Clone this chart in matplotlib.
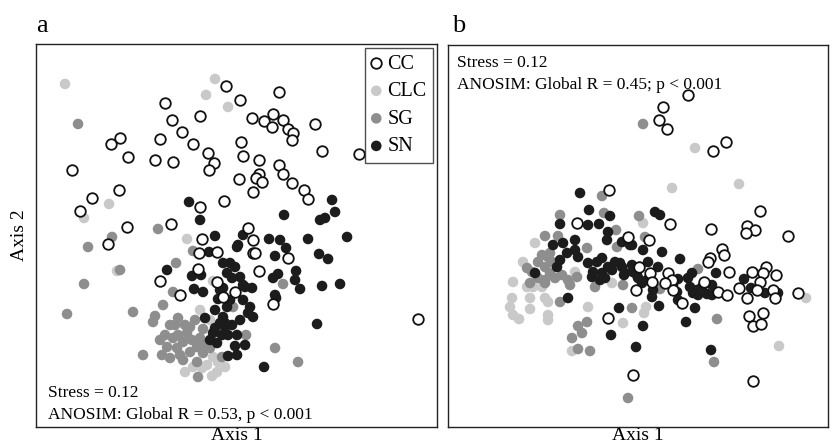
"""NMDS ordination of the four site groups (panels a and b)."""

import matplotlib
matplotlib.use("Agg")
import matplotlib.pyplot as plt

plt.rcParams["font.family"] = ["Liberation Serif", "DejaVu Serif"]

GROUPS = ["CC", "CLC", "SG", "SN"]
STRESS_A = 0.12
STRESS_B = 0.12
ANOSIM_A = "ANOSIM: Global R = 0.53, p < 0.001"
ANOSIM_B = "ANOSIM: Global R = 0.45; p < 0.001"

# ---- panel a: NMDS scores ----------------------------------------------------
cc_a_x = [-0.10, -0.71, -0.64, -0.36, -0.54, -1.25, -1.16, -0.76, -0.43, -0.28,
          -1.08, -0.81, -0.63, -0.22, -0.27, -1.64, -1.17, -1.44, -0.36, -0.12,
          -1.56, -1.09, -0.65, 0.04, 0.43, 0.16, 0.28, 0.37, 0.47, 0.36,
          0.52, 0.57, 0.56, 0.79, 0.05, 0.07, 0.23, 0.43, 0.47, 0.23,
          0.20, 0.26, 0.03, 0.56, 0.68, 0.72, 0.17, 0.86, 1.23, 0.12,
          0.17, 0.17, 0.52, 0.23, -0.01, 0.37, 1.82, -1.28, -0.34, -0.37,
          -0.19, -0.38, -0.76, -0.56, 0.19, -0.19, -0.13]
cc_a_y = [1.50, 1.33, 1.16, 1.20, 1.04, 0.92, 0.98, 0.97, 0.92, 0.83,
          0.79, 0.76, 0.74, 0.73, 0.66, 0.66, 0.46, 0.38, 0.29, 0.35,
          0.25, 0.09, 0.12, 1.36, 1.44, 1.18, 1.15, 1.22, 1.16, 1.09,
          1.07, 1.03, 0.96, 1.12, 0.94, 0.80, 0.76, 0.71, 0.62, 0.62,
          0.58, 0.54, 0.57, 0.53, 0.46, 0.37, 0.44, 0.85, 0.82, 0.08,
          -0.04, -0.17, -0.22, -0.35, -0.56, -0.68, -0.83, -0.08, -0.03, -0.17,
          -0.16, -0.33, -0.45, -0.59, -0.17, -0.46, -0.61]

clc_a_x = [-1.71, -0.21, -0.30, -0.08, -1.27, -1.52, -0.49, -1.19, -0.23, -0.36,
           -0.26, -0.23, -0.18, -0.29, -0.43, -0.34, -0.19, -0.11, -0.51, -0.24]
clc_a_y = [1.52, 1.57, 1.41, 1.29, 0.32, 0.18, -0.03, -0.35, -0.45, -0.74,
           -0.84, -1.21, -1.26, -1.29, -1.31, -1.32, -1.36, -1.31, -1.36, -1.40]

sg_a_x = [-1.58, -0.78, -1.24, -1.48, -0.43, -0.60, -1.16, -1.52, -0.63, -0.73,
          -1.69, -1.03, -0.81, -0.83, -0.61, -0.46, -0.33, -0.71, -0.63, -0.53,
          -0.44, -0.39, -0.69, -0.59, -0.46, -0.33, -0.74, -0.93, -0.66, -0.53,
          -0.39, -0.38, 0.47, -0.03, 0.10, -0.14, 0.39, 0.62, -0.49, -0.36,
          -0.56, -0.26, -0.58, -0.66, -0.51, -0.76, -0.41, -0.58, -0.31]
sg_a_y = [1.12, 0.07, -0.01, -0.11, -0.15, -0.27, -0.34, -0.48, -0.56, -0.69,
          -0.78, -0.76, -0.80, -0.86, -0.89, -0.91, -0.93, -0.99, -1.02, -1.06,
          -1.04, -1.11, -1.11, -1.12, -1.16, -1.17, -1.19, -1.19, -1.22, -1.24,
          -1.26, -1.41, -0.48, -0.71, -0.99, -1.21, -1.12, -1.26, -0.97, -1.02,
          -1.19, -1.12, -0.82, -0.89, -0.89, -1.04, -0.84, -0.99, -1.09]

sn_a_x = [-0.47, -0.36, 0.96, 0.99, 0.48, 0.84, 0.89, 0.07, 0.02, 0.33,
          0.44, 0.50, 0.72, 1.11, 0.39, 0.83, 0.92, -0.06, -0.01, -0.09,
          0.04, 0.37, 0.42, 0.60, 0.59, 0.64, 0.86, 1.04, 0.09, 0.16,
          -0.13, 0.39, 0.40, 0.14, 0.17, 0.12, -0.09, -0.13, -0.11, -0.14,
          0.01, -0.01, -0.08, 0.28, 0.81, -0.21, -0.27, -0.13, -0.69, -0.44,
          -0.35, -0.42, -0.33, -0.16, -0.18, -0.11, -0.23, -0.26, 0.01, -0.04,
          0.07, -0.16, -0.21, -0.04, -0.08, -0.19, 0.01, -0.06, 0.04, 0.09,
          -0.21, -0.31, 0.07]
sn_a_y = [0.34, 0.16, 0.36, 0.24, 0.21, 0.16, 0.18, 0.01, -0.09, -0.03,
          -0.04, -0.12, -0.03, -0.01, -0.20, -0.18, -0.23, -0.27, -0.31, -0.37,
          -0.41, -0.42, -0.38, -0.35, -0.44, -0.53, -0.50, -0.48, -0.51, -0.52,
          -0.52, -0.59, -0.62, -0.71, -0.81, -0.77, -0.71, -0.81, -0.91, -0.99,
          -0.99, -1.10, -1.20, -1.31, -0.88, 0.00, -0.16, -0.27, -0.34, -0.40,
          -0.39, -0.53, -0.56, -0.54, -0.63, -0.87, -0.97, -1.04, -0.11, -0.42,
          -0.49, -0.87, -0.92, -0.89, -0.99, -1.07, -1.19, -0.64, -0.84, -1.09,
          -0.74, -0.82, -0.64]

# ---- panel b ----------------------------------------------------------------
cc_b_x = [-0.29, -0.61, 0.50, 0.25, 0.21, 0.29, 0.75, 0.88, 0.32, 1.22,
          0.73, 1.09, 1.17, 1.08, 1.50, 0.11, 0.84, 0.86, 0.72, 0.70,
          0.12, 0.01, 0.30, 0.91, 1.14, 1.28, 1.25, 1.38, 1.22, 0.34,
          0.14, -0.02, 0.35, 0.44, 0.66, 0.80, 0.89, 1.01, 1.09, 1.19,
          1.35, 1.37, 1.60, 1.11, 1.25, 1.15, 1.23, -0.05, 1.15, -0.10,
          -0.30, 0.27]
cc_b_y = [0.46, 0.13, 1.41, 1.29, 1.16, 1.07, 0.85, 0.94, 0.12, 0.25,
          0.07, 0.10, 0.06, 0.03, 0.00, -0.04, -0.13, -0.19, -0.22, -0.26,
          -0.37, -0.31, -0.37, -0.36, -0.36, -0.31, -0.37, -0.39, -0.46, -0.44,
          -0.46, -0.54, -0.54, -0.67, -0.46, -0.56, -0.59, -0.52, -0.62, -0.54,
          -0.54, -0.62, -0.57, -0.80, -0.77, -0.90, -0.88, -1.39, -1.45, -0.01,
          -0.82, -0.47]

clc_b_x = [0.57, 0.34, 1.01, 0.05, 1.68, 0.08, 0.06, 1.41, -1.03, -1.15,
           -1.11, -1.05, -0.96, -1.25, -0.63, -0.26, -1.26, -1.28, -0.93, -0.90,
           -1.08, -1.25, -1.19, -0.90, -0.90, -0.50, -0.15, -0.66, -1.08]
clc_b_y = [0.88, 0.48, 0.52, 0.13, -0.62, -0.71, -0.77, -1.10, -0.07, -0.26,
           -0.51, -0.51, -0.51, -0.46, -0.36, -0.47, -0.62, -0.71, -0.62, -0.66,
           -0.73, -0.79, -0.83, -0.79, -0.84, -0.71, -0.87, -1.15, -0.62]

sg_b_x = [0.05, -0.36, -0.34, -0.78, 0.01, 0.07, 0.60, 0.22, 0.79, -0.06,
          0.76, -0.10, -0.22, -0.93, -0.80, -0.51, -0.96, -0.90, -0.86, -1.00,
          -0.93, -1.11, -1.06, -1.00, -0.93, -0.83, -0.76, -0.70, -0.68, -1.08,
          -0.93, -0.61, -0.43, -0.15, -0.78, -0.51, -0.60, -0.56, -0.66, -0.60,
          -0.48, -0.21, -0.88, -0.88]
sg_b_y = [1.12, 0.40, 0.23, 0.21, 0.20, -0.01, -0.33, -0.53, -0.83, -0.72,
          -1.26, -1.62, 0.06, 0.00, 0.00, -0.12, -0.19, -0.21, -0.26, -0.26,
          -0.31, -0.32, -0.36, -0.42, -0.44, -0.42, -0.39, -0.44, -0.49, -0.47,
          -0.47, -0.41, -0.51, -0.49, -0.66, -0.86, -0.90, -0.97, -1.02, -1.13,
          -1.15, -0.11, -0.17, -0.37]

sn_b_x = [-0.58, -0.49, -0.28, -0.78, -0.50, -0.39, 0.17, 0.22, -0.06, 0.05,
          0.24, 0.42, 0.10, 0.02, -0.01, 0.20, 0.54, 0.50, 0.40, 0.78,
          1.06, 0.04, 0.00, 0.15, 0.14, 0.21, 0.35, 0.39, 0.40, 0.52,
          0.55, 0.59, 0.64, 0.60, 0.69, 0.74, 0.74, 1.13, 1.27, 1.40,
          0.57, 0.48, 0.05, -0.02, 0.73, -0.30, -0.31, -0.16, -0.08, -0.85,
          -0.75, -0.63, -0.63, -0.71, -0.60, -0.78, -0.81, -1.03, -0.50, -0.41,
          -0.36, -0.30, -0.46, -0.38, -0.36, -0.26, -0.18, -0.13, -0.06, -0.70,
          -0.19, -0.27, -0.45, -0.33, -0.23, -0.16, -0.14, -0.05, 0.09, 0.15]
sn_b_y = [0.43, 0.26, 0.20, 0.12, 0.11, 0.12, 0.24, 0.21, -0.09, -0.14,
          -0.16, -0.23, -0.26, -0.31, -0.39, -0.31, -0.37, -0.42, -0.43, -0.37,
          -0.43, -0.47, -0.42, -0.54, -0.61, -0.70, -0.49, -0.56, -0.64, -0.51,
          -0.57, -0.54, -0.51, -0.59, -0.58, -0.49, -0.59, -0.52, -0.57, -0.57,
          -0.72, -0.86, -0.90, -1.11, -1.14, 0.04, -0.04, -0.06, -0.09, -0.09,
          -0.07, -0.04, -0.14, -0.17, -0.21, -0.24, -0.31, -0.37, -0.27, -0.26,
          -0.22, -0.31, -0.41, -0.44, -0.37, -0.34, -0.27, -0.37, -0.29, -0.62,
          -0.72, -0.99, -0.36, -0.42, -0.26, -0.31, -0.39, -0.36, -0.44, -0.47]

STYLE = {
    "CC": dict(facecolors="white", edgecolors="#111111", linewidths=1.3),
    "CLC": dict(facecolors="#c9c9c9", edgecolors="none"),
    "SG": dict(facecolors="#8e8e8e", edgecolors="none"),
    "SN": dict(facecolors="#1c1c1c", edgecolors="none"),
}
DRAW_ORDER = ["CLC", "SG", "SN", "CC"]
SIZE = 58


def draw_panel(ax, data, xlim, ylim):
    handles = {}
    for g in DRAW_ORDER:
        x, y = data[g]
        handles[g] = ax.scatter(x, y, s=SIZE, label=g, zorder=2, **STYLE[g])
    ax.set_xlim(*xlim)
    ax.set_ylim(*ylim)
    ax.set_xticks([])
    ax.set_yticks([])
    for sp in ax.spines.values():
        sp.set_linewidth(1.0)
        sp.set_color("#222222")
    return handles


fig = plt.figure(figsize=(8.32, 4.47), dpi=100)
ax_a = fig.add_axes([0.0433, 0.0447, 0.482, 0.857])
ax_b = fig.add_axes([0.5385, 0.0447, 0.4567, 0.8546])

h = draw_panel(ax_a,
               {"CC": (cc_a_x, cc_a_y), "CLC": (clc_a_x, clc_a_y),
                "SG": (sg_a_x, sg_a_y), "SN": (sn_a_x, sn_a_y)},
               (-2.00, 2.01), (-1.91, 1.92))
draw_panel(ax_b,
           {"CC": (cc_b_x, cc_b_y), "CLC": (clc_b_x, clc_b_y),
            "SG": (sg_b_x, sg_b_y), "SN": (sn_b_x, sn_b_y)},
           (-1.90, 1.90), (-1.91, 1.91))

leg = ax_a.legend([h[g] for g in GROUPS], GROUPS, loc="upper right",
                  fontsize=14.5, frameon=True, fancybox=False,
                  borderaxespad=0.2, handlelength=0.5, handletextpad=0.3,
                  labelspacing=0.42, borderpad=0.32, scatterpoints=1)
leg.get_frame().set_edgecolor("#222222")
leg.get_frame().set_linewidth(1.0)

TXT = 12.5
ax_a.text(0.030, 0.078, f"Stress = {STRESS_A:.2f}", transform=ax_a.transAxes,
          fontsize=TXT, va="baseline")
ax_a.text(0.030, 0.021, ANOSIM_A, transform=ax_a.transAxes,
          fontsize=TXT, va="baseline")
ax_b.text(0.024, 0.942, f"Stress = {STRESS_B:.2f}", transform=ax_b.transAxes,
          fontsize=TXT, va="baseline")
ax_b.text(0.024, 0.885, ANOSIM_B, transform=ax_b.transAxes,
          fontsize=TXT, va="baseline")

ax_a.set_xlabel("Axis 1", fontsize=14, labelpad=0)
ax_b.set_xlabel("Axis 1", fontsize=14, labelpad=0)
ax_a.set_ylabel("Axis 2", fontsize=14, labelpad=6)

fig.text(36 / 832, 1 - 32 / 447, "a", fontsize=19, va="baseline")
fig.text(452 / 832, 1 - 32 / 447, "b", fontsize=19, va="baseline")

fig.savefig("out.png", dpi=100)
